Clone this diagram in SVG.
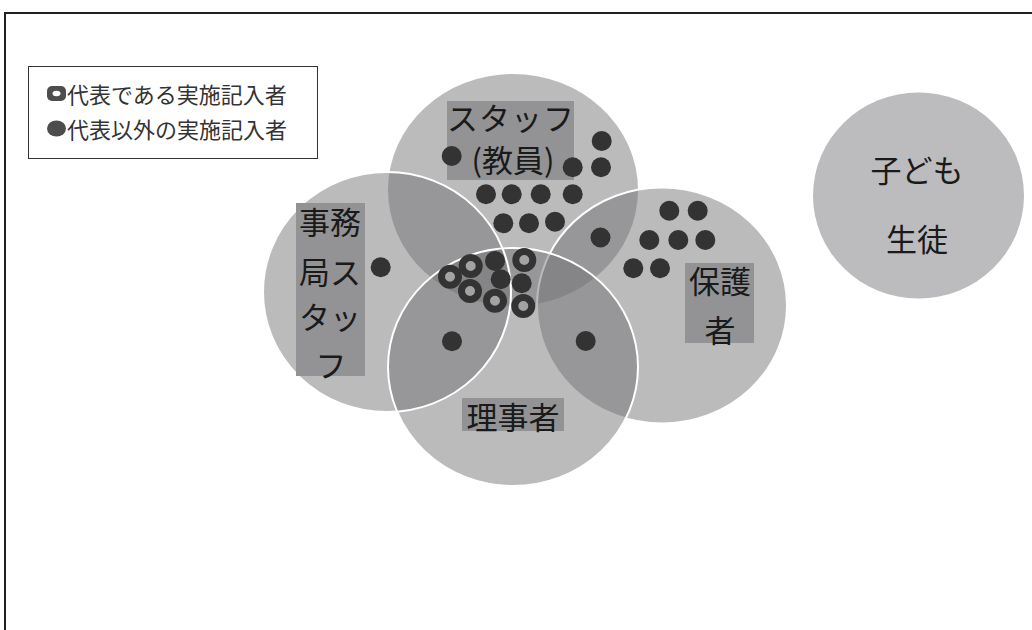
<svg xmlns="http://www.w3.org/2000/svg" width="1032" height="630" viewBox="0 0 1032 630">
<style>
.set{fill:#707072;fill-opacity:0.48;stroke:none}
.edge{fill:none;stroke:#ffffff;stroke-width:2}
.lbl{fill:#939395}
.t{font-family:"Noto Sans CJK JP","Liberation Serif",serif;fill:#1a1a1a;dominant-baseline:central;text-anchor:middle}
.big{font-size:31px}
.leg{font-family:"Noto Sans CJK JP","Liberation Sans",sans-serif;font-size:22px;fill:#333;dominant-baseline:central}
.d{fill:#333333}
.r{fill:#a3a3a5;stroke:#333333;stroke-width:7}
</style>
<rect width="1032" height="630" fill="#ffffff"/>
<path d="M5,630 V13 H1032" fill="none" stroke="#231f20" stroke-width="2"/>

<g id="legend">
<rect x="28.5" y="66.5" width="289" height="92" fill="#ffffff" stroke="#333" stroke-width="1"/>
<rect x="47" y="86" width="19" height="15" rx="5" fill="#4d4d4d"/>
<ellipse cx="56.5" cy="93.5" rx="4" ry="2.8" fill="#ffffff"/>
<text class="leg" x="67" y="93">代表である実施記入者</text>
<ellipse cx="56.5" cy="128.5" rx="9.5" ry="8" fill="#4d4d4d"/>
<text class="leg" x="67" y="128">代表以外の実施記入者</text>
</g>

<g id="circles">
<ellipse id="c-staff" class="set" cx="513" cy="190" rx="125" ry="116"/>
<ellipse id="c-office" class="set" cx="387" cy="292" rx="124" ry="120"/>
<ellipse id="c-parent" class="set" cx="662" cy="305.5" rx="125" ry="118"/>
<ellipse class="edge" cx="662" cy="305.5" rx="125" ry="118"/>
<ellipse id="c-board" class="set" cx="513" cy="367" rx="125" ry="119"/>
<ellipse class="edge" cx="513" cy="367" rx="125" ry="119"/>
<ellipse class="edge" cx="387" cy="292" rx="124" ry="120"/>
</g>

<g id="node-staff">
<rect class="lbl" x="447" y="101" width="127" height="79"/>
<text class="t big" x="511" y="116" letter-spacing="1">スタッフ</text>
<text class="t big" x="513" y="158">(教員)</text>
</g>

<g id="node-office">
<rect class="lbl" x="296" y="203" width="69" height="173"/>
<text class="t big" x="330" y="220">事務</text>
<text class="t big" x="330" y="270">局ス</text>
<text class="t big" x="330" y="315">タッ</text>
<text class="t big" x="331" y="363">フ</text>
</g>

<g id="node-parent">
<rect class="lbl" x="685" y="263" width="69" height="80"/>
<text class="t big" x="720" y="279">保護</text>
<text class="t big" x="720" y="328">者</text>
</g>

<g id="node-board">
<rect class="lbl" x="462" y="398" width="102" height="33"/>
<text class="t big" x="513" y="415">理事者</text>
</g>

<g id="node-child">
<ellipse cx="918.5" cy="195.5" rx="105.5" ry="103" fill="#bcbcbe"/>
<text class="t big" x="917" y="168">子ども</text>
<text class="t big" x="917" y="237">生徒</text>
</g>

<g id="markers">
<circle class="d" cx="601.7" cy="141" r="10"/>
<circle class="d" cx="451.7" cy="156" r="10"/>
<circle class="d" cx="572.7" cy="167.3" r="10"/>
<circle class="d" cx="601" cy="167.3" r="10"/>
<circle class="d" cx="486" cy="194.3" r="10"/>
<circle class="d" cx="511.7" cy="194.3" r="10"/>
<circle class="d" cx="540.7" cy="194.3" r="10"/>
<circle class="d" cx="572.7" cy="194.3" r="10"/>
<circle class="d" cx="503.3" cy="223.3" r="10"/>
<circle class="d" cx="529" cy="223.3" r="10"/>
<circle class="d" cx="555" cy="221.7" r="10"/>
<circle class="d" cx="600.5" cy="237.5" r="10"/>
<circle class="d" cx="669.3" cy="210.7" r="10"/>
<circle class="d" cx="697.7" cy="210.7" r="10"/>
<circle class="d" cx="649.3" cy="240" r="10"/>
<circle class="d" cx="678.3" cy="240" r="10"/>
<circle class="d" cx="705.3" cy="240" r="10"/>
<circle class="d" cx="633.3" cy="268.3" r="10"/>
<circle class="d" cx="660" cy="268.3" r="10"/>
<circle class="d" cx="585.7" cy="341" r="10"/>
<circle class="d" cx="380.7" cy="267.3" r="10"/>
<circle class="d" cx="452" cy="341.3" r="10"/>
<circle class="d" cx="495" cy="261" r="10"/>
<circle class="d" cx="500.7" cy="279.3" r="10"/>
<circle class="d" cx="521.7" cy="283.3" r="10"/>
<circle class="r" cx="450" cy="276.7" r="8.5"/>
<circle class="r" cx="470.7" cy="266" r="8.5"/>
<circle class="r" cx="524.3" cy="260" r="8.5"/>
<circle class="r" cx="470" cy="291" r="8.5"/>
<circle class="r" cx="495" cy="300.7" r="8.5"/>
<circle class="r" cx="523.3" cy="306" r="8.5"/>
</g>

<g id="connectors"></g>
</svg>
